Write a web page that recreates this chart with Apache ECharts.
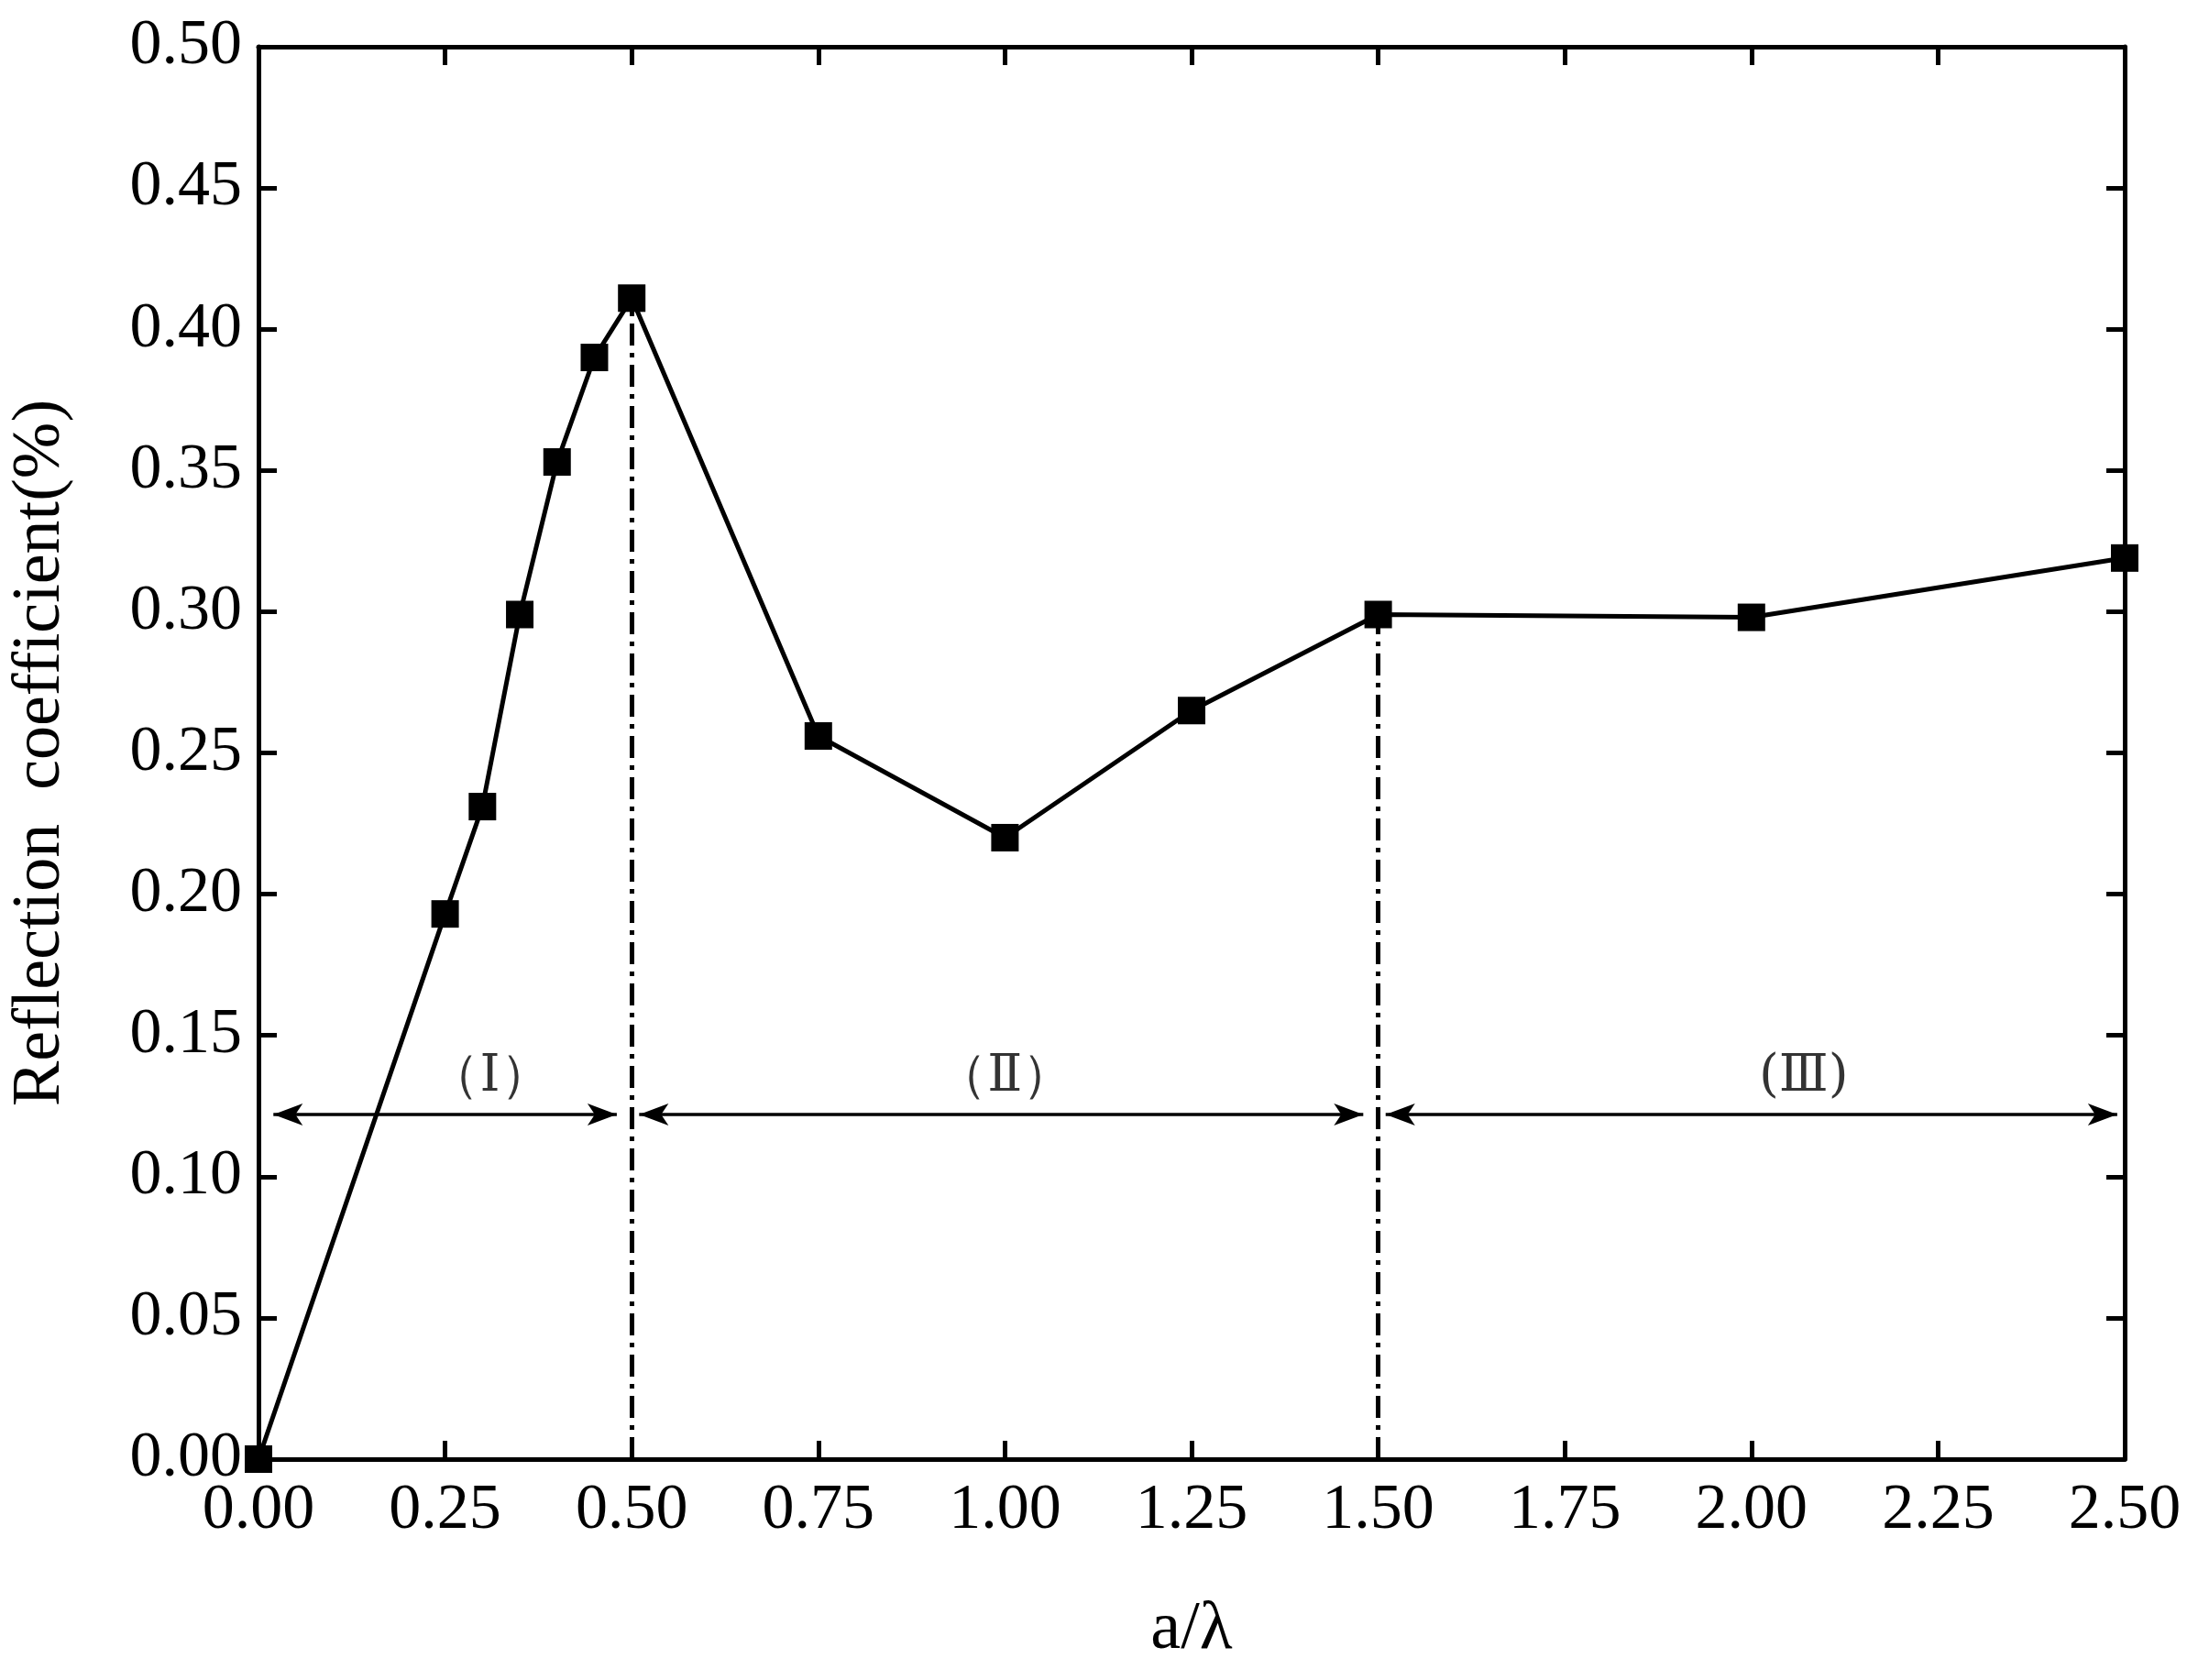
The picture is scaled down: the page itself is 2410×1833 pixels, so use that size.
<!DOCTYPE html>
<html><head><meta charset="utf-8">
<script src="https://cdn.jsdelivr.net/npm/echarts@6/dist/echarts.min.js"></script>
<style>html,body{margin:0;padding:0;background:#fff}#c{width:2410px;height:1833px}</style>
</head><body><div id="c"></div>
<script>
const xVals = [0, 0.25, 0.3, 0.35, 0.4, 0.45, 0.5, 0.75, 1.0, 1.25, 1.5, 2.0, 2.5];
const yVals = [0, 0.193, 0.231, 0.299, 0.353, 0.390, 0.411, 0.256, 0.220, 0.265, 0.299, 0.298, 0.319];
const regionLabels = ['（Ⅰ）', '（Ⅱ）', '(Ⅲ)'];
const regionLabelX = [0.31, 1.0, 2.07];
const regionArrows = [[0.02, 0.48], [0.51, 1.48], [1.51, 2.49]];
const arrowY = 0.122;
const labelY = 0.135;
const dividers = [[0.5, 0.411], [1.5, 0.299]];

const font = 'Liberation Serif';
const axisCommon = {
  axisLine: {show: true, onZero: false, lineStyle: {color: '#000', width: 5}},
  axisTick: {show: true, inside: true, length: 20, lineStyle: {color: '#000', width: 5}},
  splitLine: {show: false}
};
const chart = echarts.init(document.getElementById('c'));
chart.setOption({
  animation: false,
  grid: {left: 272, right: 92, top: 51, bottom: 241},
  xAxis: [
    Object.assign({type: 'value', min: 0, max: 2.5, interval: 0.25, position: 'bottom',
      name: 'a/λ', nameLocation: 'middle', nameGap: 150,
      nameTextStyle: {fontFamily: font, fontSize: 74, color: '#000'},
      axisLabel: {fontFamily: font, fontSize: 70, color: '#000', margin: 22, formatter: v => v.toFixed(2)}}, axisCommon),
    Object.assign({type: 'value', min: 0, max: 2.5, interval: 0.25, position: 'top', axisLabel: {show: false}}, axisCommon)
  ],
  yAxis: [
    Object.assign({type: 'value', min: 0, max: 0.5, interval: 0.05, position: 'left',
      name: 'Reflection  coefficient(%)', nameLocation: 'middle', nameGap: 200,
      nameTextStyle: {fontFamily: font, fontSize: 74, color: '#000'},
      axisLabel: {fontFamily: font, fontSize: 70, color: '#000', margin: 18, formatter: v => v.toFixed(2)}}, axisCommon),
    Object.assign({type: 'value', min: 0, max: 0.5, interval: 0.05, position: 'right', axisLabel: {show: false}}, axisCommon)
  ],
  series: [
    {type: 'line', data: xVals.map((x, i) => [x, yVals[i]]), symbol: 'rect', symbolSize: 30,
     itemStyle: {color: '#000'}, lineStyle: {color: '#000', width: 5}, z: 5,
     markLine: {silent: true, symbol: ['arrow', 'arrow'], symbolSize: [18, 32],
       label: {show: false}, lineStyle: {color: '#000', width: 3.5, type: 'solid'},
       data: regionArrows.map(a => [{coord: [a[0], arrowY]}, {coord: [a[1], arrowY]}])}},
    {type: 'line', data: [], markLine: {silent: true, symbol: ['none', 'none'], label: {show: false},
       lineStyle: {color: '#000', width: 5, type: [24, 8, 5, 8]},
       data: dividers.map(d => [{coord: [d[0], 0]}, {coord: [d[0], d[1]]}])}},
    {type: 'scatter', symbolSize: 0, data: regionLabelX.map((x, i) => ({value: [x, labelY], name: regionLabels[i]})),
     label: {show: true, position: 'inside', formatter: p => p.name, fontFamily: "'DejaVu Serif', 'Liberation Serif'", fontSize: 56, color: '#000'}}
  ]
});
</script></body></html>
